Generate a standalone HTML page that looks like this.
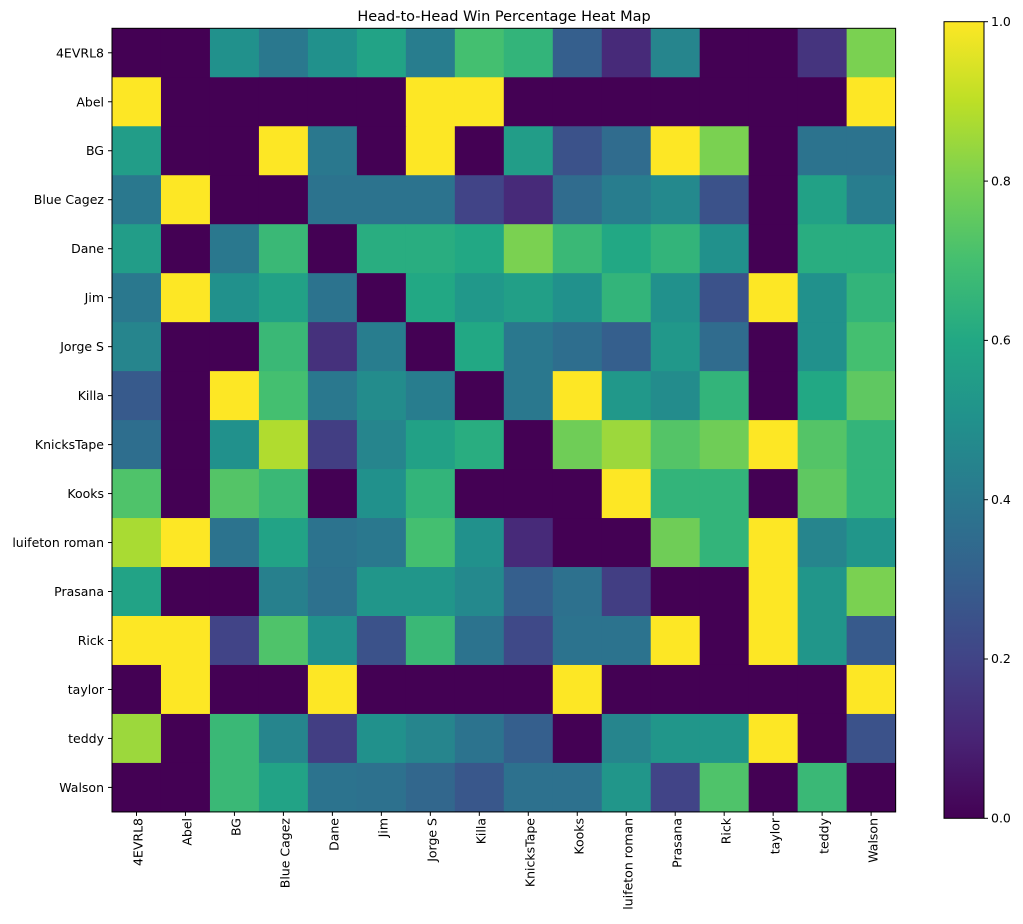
<!DOCTYPE html>
<html><head><meta charset="utf-8"><style>
body{margin:0;background:#fff}
svg{display:block;font-family:"DejaVu Sans","Liberation Sans",sans-serif}
</style></head><body>
<svg id="s" width="1023" height="924" viewBox="0 0 1023 924" xmlns="http://www.w3.org/2000/svg">
<defs><linearGradient id="vg" x1="0" y1="1" x2="0" y2="0">
<stop offset="0" stop-color="#440154"/><stop offset="0.1" stop-color="#482475"/><stop offset="0.2" stop-color="#414487"/><stop offset="0.3" stop-color="#355f8d"/><stop offset="0.4" stop-color="#2a788e"/><stop offset="0.5" stop-color="#21918c"/><stop offset="0.6" stop-color="#22a884"/><stop offset="0.7" stop-color="#44bf70"/><stop offset="0.8" stop-color="#7ad151"/><stop offset="0.9" stop-color="#bddf26"/><stop offset="1" stop-color="#fde725"/>
</linearGradient></defs>
<text x="504" y="21" font-size="14.5" text-anchor="middle">Head-to-Head Win Percentage Heat Map</text>
<g id="cells"></g>
<rect x="112" y="28.3" width="783.6" height="783.6" fill="none" stroke="#000" stroke-width="1"/>
<g font-size="12.5" text-anchor="end" id="yl">
<text x="104" y="57">4EVRL8</text><text x="104" y="106">Abel</text><text x="104" y="155">BG</text><text x="104" y="204">Blue Cagez</text><text x="104" y="253">Dane</text><text x="104" y="302">Jim</text><text x="104" y="351">Jorge S</text><text x="104" y="400">Killa</text><text x="104" y="449">KnicksTape</text><text x="104" y="498">Kooks</text><text x="104" y="547">luifeton roman</text><text x="104" y="596">Prasana</text><text x="104" y="645">Rick</text><text x="104" y="694">taylor</text><text x="104" y="743">teddy</text><text x="104" y="792">Walson</text>
</g>
<g font-size="12.5" text-anchor="end" id="xl"></g>
<g id="ticks" stroke="#000" stroke-width="1"></g>
<rect x="944" y="21.7" width="40" height="796.6" fill="url(#vg)" stroke="#000" stroke-width="1"/>
<g font-size="12.5">
<text x="991" y="822.5">0.0</text><text x="991" y="663.2">0.2</text><text x="991" y="503.9">0.4</text><text x="991" y="344.6">0.6</text><text x="991" y="185.3">0.8</text><text x="991" y="26">1.0</text>
</g>
<g stroke="#000"><line x1="984" x2="988" y1="818.3" y2="818.3"/><line x1="984" x2="988" y1="659" y2="659"/><line x1="984" x2="988" y1="499.7" y2="499.7"/><line x1="984" x2="988" y1="340.4" y2="340.4"/><line x1="984" x2="988" y1="181.1" y2="181.1"/><line x1="984" x2="988" y1="21.7" y2="21.7"/></g>
<g font-size="12.5" text-anchor="end">
<text transform="translate(142.5,818) rotate(-90)">4EVRL8</text>
<text transform="translate(191.5,818) rotate(-90)">Abel</text>
<text transform="translate(240.5,818) rotate(-90)">BG</text>
<text transform="translate(289.5,818) rotate(-90)">Blue Cagez</text>
<text transform="translate(338.5,818) rotate(-90)">Dane</text>
<text transform="translate(387.5,818) rotate(-90)">Jim</text>
<text transform="translate(436.5,818) rotate(-90)">Jorge S</text>
<text transform="translate(485.5,818) rotate(-90)">Killa</text>
<text transform="translate(534.5,818) rotate(-90)">KnicksTape</text>
<text transform="translate(583.5,818) rotate(-90)">Kooks</text>
<text transform="translate(632.5,818) rotate(-90)">luifeton roman</text>
<text transform="translate(681.5,818) rotate(-90)">Prasana</text>
<text transform="translate(730.5,818) rotate(-90)">Rick</text>
<text transform="translate(779.5,818) rotate(-90)">taylor</text>
<text transform="translate(828.5,818) rotate(-90)">teddy</text>
<text transform="translate(877.5,818) rotate(-90)">Walson</text>
</g>
</svg>
<script>
var D=[
[0,0,0.5,0.4,0.5,0.58,0.42,0.7,0.65,0.3,0.12,0.45,0,0,0.15,0.8],
[1,0,0,0,0,0,1,1,0,0,0,0,0,0,0,1],
[0.55,0,0,1,0.4,0,1,0,0.55,0.25,0.35,1,0.8,0,0.38,0.38],
[0.4,1,0,0,0.38,0.38,0.38,0.2,0.12,0.35,0.42,0.47,0.25,0,0.57,0.42],
[0.55,0,0.4,0.67,0,0.62,0.62,0.6,0.8,0.67,0.6,0.65,0.5,0,0.62,0.62],
[0.4,1,0.5,0.57,0.38,0,0.6,0.53,0.56,0.5,0.65,0.5,0.25,1,0.5,0.65],
[0.45,0,0,0.67,0.14,0.42,0,0.6,0.4,0.36,0.3,0.53,0.35,0,0.5,0.7],
[0.28,0,1,0.7,0.4,0.48,0.42,0,0.4,1,0.53,0.48,0.65,0,0.6,0.75],
[0.36,0,0.5,0.88,0.18,0.45,0.57,0.62,0,0.78,0.85,0.73,0.78,1,0.73,0.65],
[0.72,0,0.73,0.67,0,0.5,0.65,0,0,0,1,0.65,0.65,0,0.75,0.65],
[0.87,1,0.38,0.58,0.38,0.4,0.7,0.5,0.12,0,0,0.78,0.65,1,0.45,0.52],
[0.58,0,0,0.43,0.37,0.52,0.52,0.47,0.3,0.37,0.18,0,0,1,0.52,0.8],
[1,1,0.2,0.72,0.5,0.25,0.67,0.38,0.22,0.38,0.38,1,0,1,0.52,0.28],
[0,1,0,0,1,0,0,0,0,1,0,0,0,0,0,1],
[0.85,0,0.67,0.45,0.18,0.5,0.45,0.38,0.3,0,0.45,0.52,0.52,1,0,0.25],
[0,0,0.67,0.58,0.38,0.37,0.33,0.27,0.37,0.37,0.52,0.2,0.72,0,0.67,0]];
var V=[[68,1,84],[72,36,117],[65,68,135],[53,95,141],[42,120,142],[33,145,140],[34,168,132],[68,191,112],[122,209,81],[189,223,38],[253,231,37]];
function col(v){var t=v*10,i=Math.min(9,Math.floor(t)),f=t-i,a=V[i],b=V[i+1];
return 'rgb('+[0,1,2].map(function(k){return Math.round(a[k]+(b[k]-a[k])*f)}).join(',')+')';}
var ns='http://www.w3.org/2000/svg',g=document.getElementById('cells'),tk=document.getElementById('ticks');
var x0=112,y0=28.3,c=48.975;
for(var r=0;r<16;r++)for(var k=0;k<16;k++){var e=document.createElementNS(ns,'rect');
e.setAttribute('x',x0+k*c);e.setAttribute('y',y0+r*c);e.setAttribute('width',c+0.5);e.setAttribute('height',c+0.5);
e.setAttribute('fill',col(D[r][k]));g.appendChild(e);}
for(var i=0;i<16;i++){var m=x0+(i+0.5)*c;
var l=document.createElementNS(ns,'line');l.setAttribute('x1',108);l.setAttribute('x2',112);l.setAttribute('y1',y0+(i+0.5)*c);l.setAttribute('y2',y0+(i+0.5)*c);tk.appendChild(l);
l=document.createElementNS(ns,'line');l.setAttribute('y1',811.9);l.setAttribute('y2',815.9);l.setAttribute('x1',m);l.setAttribute('x2',m);tk.appendChild(l);}
var yl=document.getElementById('yl').children;for(var i=0;i<16;i++)yl[i].setAttribute('y',y0+(i+0.5)*c+4.5);
</script>
</body></html>
